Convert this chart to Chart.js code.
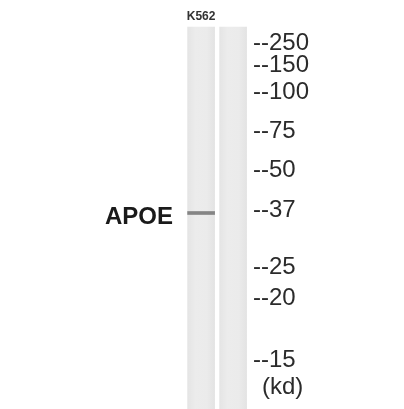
<!DOCTYPE html>
<html>
<head>
<meta charset="utf-8">
<script src="https://cdn.jsdelivr.net/npm/chart.js@4"></script>
<style>
  html, body { margin: 0; padding: 0; background: #fff; }
  #wrap { width: 404px; height: 409px; position: relative; }
</style>
</head>
<body>
<div id="wrap"><canvas id="blot" width="404" height="409"></canvas></div>
<script>
// lanes of the blot (sample names and lane centres, in px along the membrane)
const laneNames = ['K562', ''];
const laneCenters = [201, 237];
const laneTop = 27;
const laneBottom = 409;

// marker ladder (kd) and where each one ran to
const markerLabels = ['250', '150', '100', '75', '50', '37', '25', '20', '15'];
const markerPositions = [42, 64, 91, 130, 169, 209, 266, 297, 359];

// detected band
const bandName = 'APOE';
const bandLane = 0;
const bandPosition = [211.5, 214.5];

// lane fill, a bit darker at the edges like the scanned membrane
function laneFill(context) {
  const chart = context.chart;
  const xs = chart.scales && chart.scales.x;
  if (!xs || context.dataIndex === undefined) return '#ebebeb';
  const cx = xs.getPixelForValue(laneCenters[context.dataIndex]);
  if (!isFinite(cx)) return '#ebebeb';
  const g = chart.ctx.createLinearGradient(cx - 14, 0, cx + 14, 0);
  g.addColorStop(0, '#e4e4e4');
  g.addColorStop(0.3, '#ececec');
  g.addColorStop(0.7, '#ebebeb');
  g.addColorStop(1, '#e3e3e3');
  return g;
}

const blotText = {
  id: 'blotText',
  afterDatasetsDraw(chart) {
    const {ctx, scales: {x, y}} = chart;
    ctx.save();
    ctx.fillStyle = '#2b2b2b';
    ctx.textBaseline = 'middle';
    ctx.font = '24px "Liberation Sans", Arial, sans-serif';
    ctx.textAlign = 'left';
    markerLabels.forEach((lab, i) => {
      ctx.fillText('--' + lab, 253, y.getPixelForValue(markerPositions[i]) + 1);
    });
    ctx.fillText('(kd)', 262, y.getPixelForValue(387));

    // band name next to the band
    ctx.font = 'bold 24px "Liberation Sans", Arial, sans-serif';
    ctx.textAlign = 'right';
    ctx.fillStyle = '#1a1a1a';
    ctx.fillText(bandName, 173, y.getPixelForValue(217));

    // lane names on top
    ctx.font = 'bold 12px "Liberation Sans", Arial, sans-serif';
    ctx.textAlign = 'center';
    ctx.fillStyle = '#333';
    laneNames.forEach((n, i) => {
      if (n) ctx.fillText(n, x.getPixelForValue(laneCenters[i]), y.getPixelForValue(17));
    });
    ctx.restore();
  }
};

new Chart(document.getElementById('blot'), {
  type: 'bar',
  data: {
    datasets: [
      {
        label: 'lanes',
        data: laneCenters.map(c => ({x: c, y: [laneTop, laneBottom]})),
        backgroundColor: laneFill,
        barThickness: 27,
        grouped: false,
        order: 2
      },
      {
        label: bandName,
        data: [{x: laneCenters[bandLane], y: bandPosition}],
        backgroundColor: '#858585',
        barThickness: 27,
        grouped: false,
        order: 1
      }
    ]
  },
  options: {
    responsive: false,
    animation: false,
    devicePixelRatio: 1,
    layout: {padding: 0},
    plugins: {legend: {display: false}, tooltip: {enabled: false}},
    scales: {
      x: {type: 'linear', min: 0, max: 404, display: false},
      y: {type: 'linear', min: 0, max: 409, reverse: true, display: false}
    }
  },
  plugins: [blotText]
});
</script>
</body>
</html>
